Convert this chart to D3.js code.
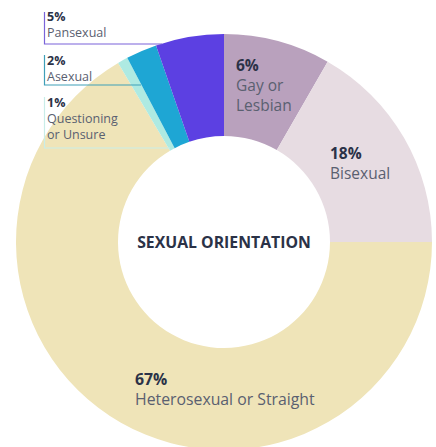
<!DOCTYPE html>
<html>
<head>
<meta charset="utf-8">
<script src="https://cdn.jsdelivr.net/npm/d3@7"></script>
<style>
  html, body { margin: 0; padding: 0; background: #ffffff; }
  svg { display: block; }
  text { font-family: "Open Sans", "Noto Sans", sans-serif; }
</style>
</head>
<body>
<svg id="chart" width="436" height="447"></svg>
<script>
// ---- data (clockwise from 12 o'clock) ----
const categories = ["Gay or Lesbian", "Bisexual", "Heterosexual or Straight", "Questioning or Unsure", "Asexual", "Pansexual"];
const labelPercents = [6, 18, 67, 1, 2, 5];
// arc shares as drawn in the reference picture (estimated from the arc angles)
const arcShares = [8.3, 16.7, 66.5, 0.8, 2.4, 5.3];
const colors = ["#b9a1bd", "#e7dce2", "#efe4b8", "#aeeae2", "#1ea6d4", "#5c40e2"];
const chartTitle = "SEXUAL ORIENTATION";

const svg = d3.select("#chart");
const cx = 224, cy = 242, outerR = 208, innerR = 106;

const pie = d3.pie().sort(null).value(d => d.share).startAngle(0).endAngle(2 * Math.PI);
const arc = d3.arc().innerRadius(innerR).outerRadius(outerR);

const data = categories.map((c, i) => ({ name: c, pct: labelPercents[i], share: arcShares[i], color: colors[i] }));
const arcs = pie(data);

const g = svg.append("g").attr("transform", `translate(${cx},${cy})`);
g.selectAll("path").data(arcs).enter().append("path")
  .attr("d", arc)
  .attr("fill", d => d.data.color);

// ---- leader lines for small slices (left side) ----
const leaders = [
  { idx: 5, top: 12, y: 44, x2: 162, color: "#7a63d9" },
  { idx: 4, top: 55, y: 85, x2: 141, color: "#3f9fb8" },
  { idx: 3, top: 97, y: 148, x2: 170, color: "#c9ede8" }
];
const lx = 44.5;
leaders.forEach(l => {
  svg.append("path")
    .attr("d", `M${lx},${l.top} V${l.y} H${l.x2}`)
    .attr("fill", "none")
    .attr("stroke", l.color)
    .attr("stroke-width", 1.2);
});

const pctColor = "#2b3247";
const lblColor = "#5a6070";

function label(x, lines, size, lineH, baseline) {
  const t = svg.append("text").attr("x", x).attr("y", baseline);
  lines.forEach((ln, i) => {
    t.append("tspan")
      .attr("x", x)
      .attr("dy", i === 0 ? 0 : lineH)
      .attr("font-size", size)
      .attr("font-weight", i === 0 ? 700 : 400)
      .attr("fill", i === 0 ? pctColor : lblColor)
      .text(ln);
  });
}

// small left labels
label(47, [labelPercents[5] + "%", "Pansexual"], 12.5, 16, 21);
label(47, [labelPercents[4] + "%", "Asexual"], 12.5, 16, 65);
label(47, [labelPercents[3] + "%", "Questioning", "or Unsure"], 12.5, 16, 107);

// larger labels
label(236, [labelPercents[0] + "%", "Gay or", "Lesbian"], 15.5, 20, 71);
label(330, [labelPercents[1] + "%", "Bisexual"], 15.5, 20, 159);
label(135, [labelPercents[2] + "%", "Heterosexual or Straight"], 15.8, 20, 385);

// centre title
svg.append("text")
  .attr("x", 224).attr("y", 248)
  .attr("text-anchor", "middle")
  .attr("font-size", 15.8)
  .attr("font-weight", 700)
  .attr("fill", "#2b3247")
  .text(chartTitle);
</script>
</body>
</html>
